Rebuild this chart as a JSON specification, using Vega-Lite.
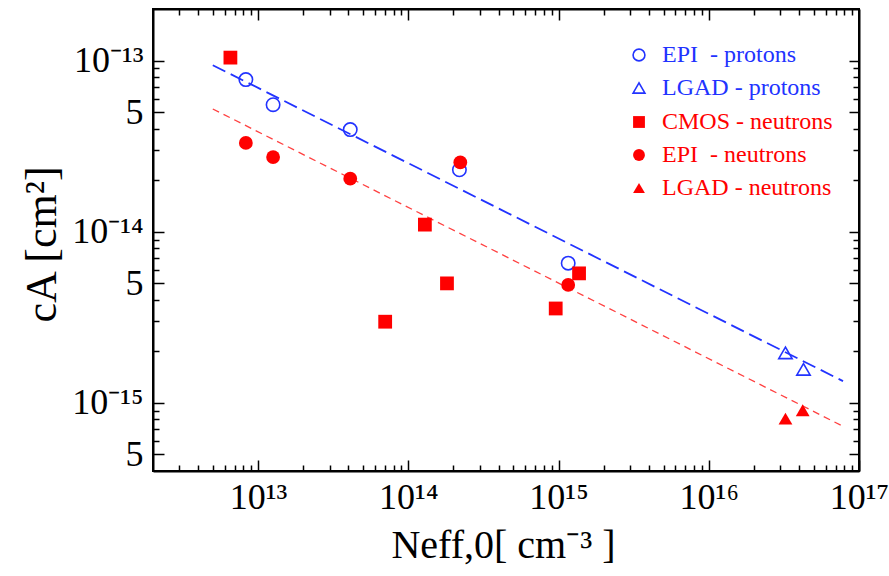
{
  "$schema": "https://vega.github.io/schema/vega-lite/v6.json",
  "width": 706,
  "height": 462,
  "autosize": {"type": "none"},
  "padding": {"left": 153, "top": 9, "right": 30, "bottom": 105},
  "background": "white",
  "view": {"stroke": "black", "strokeWidth": 2},
  "config": {
    "font": "Liberation Serif",
    "axis": {
      "grid": false,
      "domainColor": "black",
      "domainWidth": 2,
      "tickColor": "black",
      "tickWidth": 1.5,
      "labelFont": "Liberation Serif",
      "labelFontSize": 36,
      "labelColor": "black",
      "titleFont": "Liberation Serif",
      "titleFontWeight": "normal",
      "titleColor": "black",
      "labelOverlap": false,
      "labelFlush": false
    },
    "legend": {
      "labelFont": "Liberation Serif",
      "labelFontSize": 24,
      "padding": 0,
      "rowPadding": 9,
      "labelOffset": 11,
      "symbolSize": 140,
      "labelLimit": 400
    }
  },
  "datasets": {
    "pts": [
      {"series": "EPI\u00a0 - protons", "group": "protons", "N": 8.3e12, "cA": 7.74e-14},
      {"series": "EPI\u00a0 - protons", "group": "protons", "N": 1.26e13, "cA": 5.52e-14},
      {"series": "EPI\u00a0 - protons", "group": "protons", "N": 4.11e13, "cA": 3.95e-14},
      {"series": "EPI\u00a0 - protons", "group": "protons", "N": 2.19e14, "cA": 2.30e-14},
      {"series": "EPI\u00a0 - protons", "group": "protons", "N": 1.16e15, "cA": 6.55e-15},
      {"series": "LGAD - protons", "group": "protons", "N": 3.24e16, "cA": 1.96e-15},
      {"series": "LGAD - protons", "group": "protons", "N": 4.27e16, "cA": 1.57e-15},
      {"series": "CMOS - neutrons", "group": "neutrons", "N": 6.55e12, "cA": 1.04e-13},
      {"series": "CMOS - neutrons", "group": "neutrons", "N": 1.29e14, "cA": 1.10e-14},
      {"series": "CMOS - neutrons", "group": "neutrons", "N": 1.81e14, "cA": 4.99e-15},
      {"series": "CMOS - neutrons", "group": "neutrons", "N": 7.02e13, "cA": 2.98e-15},
      {"series": "CMOS - neutrons", "group": "neutrons", "N": 9.58e14, "cA": 3.56e-15},
      {"series": "CMOS - neutrons", "group": "neutrons", "N": 1.37e15, "cA": 5.71e-15},
      {"series": "EPI\u00a0 - neutrons", "group": "neutrons", "N": 8.3e12, "cA": 3.30e-14},
      {"series": "EPI\u00a0 - neutrons", "group": "neutrons", "N": 1.26e13, "cA": 2.73e-14},
      {"series": "EPI\u00a0 - neutrons", "group": "neutrons", "N": 4.11e13, "cA": 2.04e-14},
      {"series": "EPI\u00a0 - neutrons", "group": "neutrons", "N": 2.22e14, "cA": 2.54e-14},
      {"series": "EPI\u00a0 - neutrons", "group": "neutrons", "N": 1.16e15, "cA": 4.89e-15},
      {"series": "LGAD - neutrons", "group": "neutrons", "N": 3.24e16, "cA": 8.09e-16},
      {"series": "LGAD - neutrons", "group": "neutrons", "N": 4.22e16, "cA": 9.06e-16}
    ],
    "fits": [
      {"fit": "protons", "N": 5e12, "cA": 9.39e-14},
      {"fit": "protons", "N": 7.83e16, "cA": 1.34e-15},
      {"fit": "neutrons", "N": 5e12, "cA": 5.21e-14},
      {"fit": "neutrons", "N": 7.83e16, "cA": 7.30e-16}
    ]
  },
  "layer": [
    {
      "data": {"name": "fits"},
      "transform": [{"filter": "datum.fit == 'protons'"}],
      "mark": {"type": "line", "color": "#2233ff", "strokeWidth": 1.8, "strokeDash": [14, 6], "clip": true},
      "encoding": {
        "x": {"field": "N", "type": "quantitative", "scale": {"type": "log", "domain": [2e12, 1e17], "nice": false}, "axis": null},
        "y": {"field": "cA", "type": "quantitative", "scale": {"type": "log", "domain": [4e-16, 2e-13], "nice": false}, "axis": null}
      }
    },
    {
      "data": {"name": "fits"},
      "transform": [{"filter": "datum.fit == 'neutrons'"}],
      "mark": {"type": "line", "color": "#ff4040", "strokeWidth": 1.3, "strokeDash": [7, 5], "clip": true},
      "encoding": {
        "x": {"field": "N", "type": "quantitative", "scale": {"type": "log", "domain": [2e12, 1e17], "nice": false}, "axis": null},
        "y": {"field": "cA", "type": "quantitative", "scale": {"type": "log", "domain": [4e-16, 2e-13], "nice": false}, "axis": null}
      }
    },
    {
      "data": {"name": "pts"},
      "transform": [{"filter": "datum.group == 'protons'"}],
      "mark": {"type": "point", "filled": false, "strokeWidth": 1.6, "size": 180, "color": "#2233ff", "opacity": 1},
      "encoding": {
        "x": {
          "field": "N", "type": "quantitative",
          "scale": {"type": "log", "domain": [2e12, 1e17], "nice": false},
          "axis": {
            "orient": "bottom",
            "values": [3e12, 4e12, 5e12, 6e12, 7e12, 8e12, 9e12, 1e13, 2e13, 3e13, 4e13, 5e13, 6e13, 7e13, 8e13, 9e13, 1e14, 2e14, 3e14, 4e14, 5e14, 6e14, 7e14, 8e14, 9e14, 1e15, 2e15, 3e15, 4e15, 5e15, 6e15, 7e15, 8e15, 9e15, 1e16, 2e16, 3e16, 4e16, 5e16, 6e16, 7e16, 8e16, 9e16, 1e17],
            "labelExpr": "datum.value == 1e13 ? '10¹³' : datum.value == 1e14 ? '10¹⁴' : datum.value == 1e15 ? '10¹⁵' : datum.value == 1e16 ? '10¹⁶' : datum.value == 1e17 ? '10¹⁷' : ''",
            "tickSize": {"condition": {"test": "datum.value == 1e13 || datum.value == 1e14 || datum.value == 1e15 || datum.value == 1e16 || datum.value == 1e17", "value": -11}, "value": -6},
            "labelPadding": 20,
            "title": "Neff,0[ cm⁻³ ]",
            "titleFontSize": 40,
            "titleX": 350,
            "titleY": 86,
            "titleAlign": "center",
            "titleBaseline": "alphabetic"
          }
        },
        "y": {
          "field": "cA", "type": "quantitative",
          "scale": {"type": "log", "domain": [4e-16, 2e-13], "nice": false},
          "axis": {
            "orient": "left",
            "values": [5e-16, 6e-16, 7e-16, 8e-16, 9e-16, 1e-15, 2e-15, 3e-15, 4e-15, 5e-15, 6e-15, 7e-15, 8e-15, 9e-15, 1e-14, 2e-14, 3e-14, 4e-14, 5e-14, 6e-14, 7e-14, 8e-14, 9e-14, 1e-13],
            "labelExpr": "datum.value == 1e-13 ? '10⁻¹³' : datum.value == 1e-14 ? '10⁻¹⁴' : datum.value == 1e-15 ? '10⁻¹⁵' : (datum.value == 5e-14 || datum.value == 5e-15 || datum.value == 5e-16) ? '5' : ''",
            "tickSize": {"condition": {"test": "datum.value == 1e-13 || datum.value == 1e-14 || datum.value == 1e-15 || datum.value == 5e-14 || datum.value == 5e-15 || datum.value == 5e-16", "value": -11}, "value": -6},
            "labelPadding": 21,
            "title": "cA [cm²]",
            "titleFontSize": 44,
            "titleAngle": -90,
            "titleX": -111,
            "titleY": 235,
            "titleAlign": "center",
            "titleBaseline": "middle"
          }
        },
        "shape": {
          "field": "series", "type": "nominal",
          "scale": {"domain": ["EPI\u00a0 - protons", "LGAD - protons"], "range": ["circle", "triangle-up"]},
          "legend": {
            "orient": "none", "legendX": 474, "legendY": 34, "title": null,
            "labelColor": "#2233ff", "symbolStrokeColor": "#2233ff", "symbolStrokeWidth": 1.6
          }
        }
      }
    },
    {
      "data": {"name": "pts"},
      "transform": [{"filter": "datum.group == 'neutrons'"}],
      "mark": {"type": "point", "filled": true, "size": 190, "color": "#ff0000", "opacity": 1},
      "encoding": {
        "x": {
          "field": "N", "type": "quantitative",
          "scale": {"type": "log", "domain": [2e12, 1e17], "nice": false},
          "axis": {
            "orient": "top",
            "values": [3e12, 4e12, 5e12, 6e12, 7e12, 8e12, 9e12, 1e13, 2e13, 3e13, 4e13, 5e13, 6e13, 7e13, 8e13, 9e13, 1e14, 2e14, 3e14, 4e14, 5e14, 6e14, 7e14, 8e14, 9e14, 1e15, 2e15, 3e15, 4e15, 5e15, 6e15, 7e15, 8e15, 9e15, 1e16, 2e16, 3e16, 4e16, 5e16, 6e16, 7e16, 8e16, 9e16],
            "labels": false,
            "title": null,
            "tickSize": {"condition": {"test": "datum.value == 1e13 || datum.value == 1e14 || datum.value == 1e15 || datum.value == 1e16", "value": -11}, "value": -6}
          }
        },
        "y": {
          "field": "cA", "type": "quantitative",
          "scale": {"type": "log", "domain": [4e-16, 2e-13], "nice": false},
          "axis": {
            "orient": "right",
            "values": [5e-16, 6e-16, 7e-16, 8e-16, 9e-16, 1e-15, 2e-15, 3e-15, 4e-15, 5e-15, 6e-15, 7e-15, 8e-15, 9e-15, 1e-14, 2e-14, 3e-14, 4e-14, 5e-14, 6e-14, 7e-14, 8e-14, 9e-14, 1e-13],
            "labels": false,
            "title": null,
            "tickSize": {"condition": {"test": "datum.value == 1e-13 || datum.value == 1e-14 || datum.value == 1e-15 || datum.value == 5e-14 || datum.value == 5e-15 || datum.value == 5e-16", "value": -10}, "value": -6}
          }
        },
        "shape": {
          "field": "series", "type": "nominal",
          "scale": {"domain": ["CMOS - neutrons", "EPI\u00a0 - neutrons", "LGAD - neutrons"], "range": ["square", "circle", "triangle-up"]},
          "legend": {
            "orient": "none", "legendX": 474, "legendY": 101, "title": null,
            "labelColor": "#ff0000", "symbolFillColor": "#ff0000", "symbolStrokeColor": "#ff0000"
          }
        }
      }
    }
  ],
  "resolve": {
    "scale": {"shape": "independent"},
    "axis": {"x": "independent", "y": "independent"},
    "legend": {"shape": "independent"}
  }
}
